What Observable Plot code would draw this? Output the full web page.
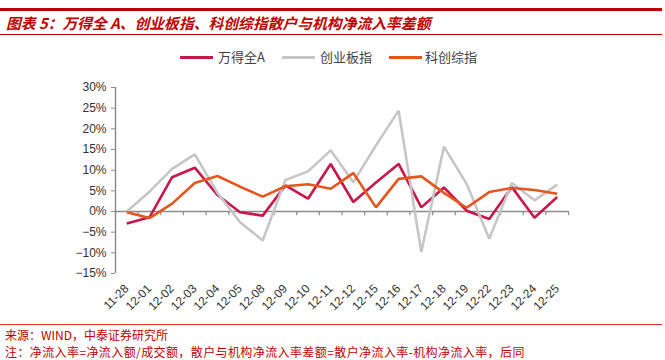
<!DOCTYPE html>
<html><head><meta charset="utf-8">
<script src="https://cdn.jsdelivr.net/npm/d3@7"></script>
<script src="https://cdn.jsdelivr.net/npm/@observablehq/plot@0.6"></script>
<style>
body{margin:0;background:#fff;width:665px;height:360px;overflow:hidden;position:relative;font-family:"Noto Sans CJK SC","Liberation Sans",sans-serif}
#topline{position:absolute;left:0;top:8px;width:662px;height:3px;background:#C00000}
#title{position:absolute;left:6px;top:12px;font-size:14.8px;font-weight:bold;font-style:italic;color:#C00000;line-height:22px;white-space:nowrap}
#subline{position:absolute;left:0;top:34px;width:662px;height:1px;background:#C00000}
#legend{position:absolute;top:47px;left:0;width:665px;height:20px;font-size:13px;color:#404040}
.li{position:absolute;top:0;line-height:20px;white-space:nowrap}
.sw{position:absolute;top:9px;height:3px;width:33px}
#chart{position:absolute;left:0;top:75px}
#footline{position:absolute;left:0;top:324px;width:662px;height:1px;background:#E03030}
#src{position:absolute;left:5px;top:326px;font-size:12px;color:#C00000;line-height:17px;white-space:nowrap}
#note{position:absolute;left:5px;top:343px;font-size:12px;color:#C00000;line-height:17px;white-space:nowrap;letter-spacing:0.4px}
</style></head><body>
<div id="topline"></div>
<div id="title">图表 5：万得全 A、创业板指、科创综指散户与机构净流入率差额</div>
<div id="subline"></div>
<div id="legend"></div>
<div id="chart"></div>
<div id="footline"></div>
<div id="src">来源：WIND，中泰证券研究所</div>
<div id="note">注：净流入率=净流入额/成交额，散户与机构净流入率差额=散户净流入率-机构净流入率，后同</div>
<script>
const dates = ["11-28","12-01","12-02","12-03","12-04","12-05","12-08","12-09","12-10","12-11","12-12","12-15","12-16","12-17","12-18","12-19","12-22","12-23","12-24","12-25"];
const wande = [-2.9,-1.4,8.3,10.6,4.0,-0.2,-1.0,6.3,3.1,11.5,2.3,7.0,11.5,1.0,5.8,0.2,-1.8,5.9,-1.5,3.5];
const chuangye = [0.0,4.8,10.3,13.8,4.5,-2.6,-7.0,7.6,9.7,14.8,7.1,16.0,24.4,-9.8,15.7,6.7,-6.6,6.9,2.7,6.5];
const kechuang = [-0.2,-1.6,1.9,6.9,8.6,6.0,3.6,6.1,6.6,5.5,9.3,1.0,7.9,8.5,4.5,0.9,4.7,5.7,5.2,4.3];
const seriesNames = ["万得全A","创业板指","科创综指"];
const seriesColors = ["#C8174A","#C6C6C6","#E6561C"];
const yTicks = [-15,-10,-5,0,5,10,15,20,25,30];

const seriesValues = [wande, chuangye, kechuang];
const rows = seriesNames.flatMap((name, s) => seriesValues[s].map((v, i) => ({i, v, name})));
const idx = dates.map((d, i) => i);
const bounds = dates.map((d, i) => i - 0.5).concat([dates.length - 0.5]);

// legend
const legend = document.getElementById("legend");
const legPos = [[180,218],[282,320],[389,425]];
seriesNames.forEach((n, s) => {
  const sw = document.createElement("div");
  sw.className = "sw"; sw.style.left = legPos[s][0] + "px"; sw.style.background = seriesColors[s];
  legend.appendChild(sw);
  const t = document.createElement("div");
  t.className = "li"; t.style.left = legPos[s][1] + "px"; t.textContent = n;
  legend.appendChild(t);
});

const fmt = d => (d < 0 ? "\u2212" : "") + Math.abs(d) + "%";
const chart = Plot.plot({
  width: 665, height: 240,
  marginLeft: 115, marginRight: 97, marginTop: 12, marginBottom: 42,
  style: {fontFamily: "'Liberation Sans', Arial, sans-serif", fontSize: "12px", color: "#333", background: "#fff"},
  x: {type: "linear", domain: [-0.5, dates.length - 0.5], label: null},
  y: {domain: [-15, 30], label: null},
  color: {domain: seriesNames, range: seriesColors},
  marks: [
    Plot.ruleY([0], {stroke: "#8C8C8C", strokeWidth: 1.5}),
    Plot.ruleX(bounds, {x: d => d, y1: 0, y2: -1, stroke: "#8C8C8C", strokeWidth: 1.2}),
    Plot.ruleX([-0.5], {stroke: "#8C8C8C", strokeWidth: 1.5}),
    Plot.axisY({ticks: yTicks, tickFormat: fmt, tickSize: 4, tickPadding: 5, stroke: "#8C8C8C", fontSize: 12, label: null}),
    Plot.axisX({ticks: idx, tickFormat: i => dates[i], tickSize: 0, tickPadding: 13, tickRotate: -45, fontSize: 12, label: null}),
    Plot.line(rows, {x: "i", y: "v", z: "name", stroke: "name", strokeWidth: 2.6, strokeLinejoin: "miter", strokeLinecap: "butt"})
  ]
});
document.getElementById("chart").appendChild(chart);
</script>
</body></html>
